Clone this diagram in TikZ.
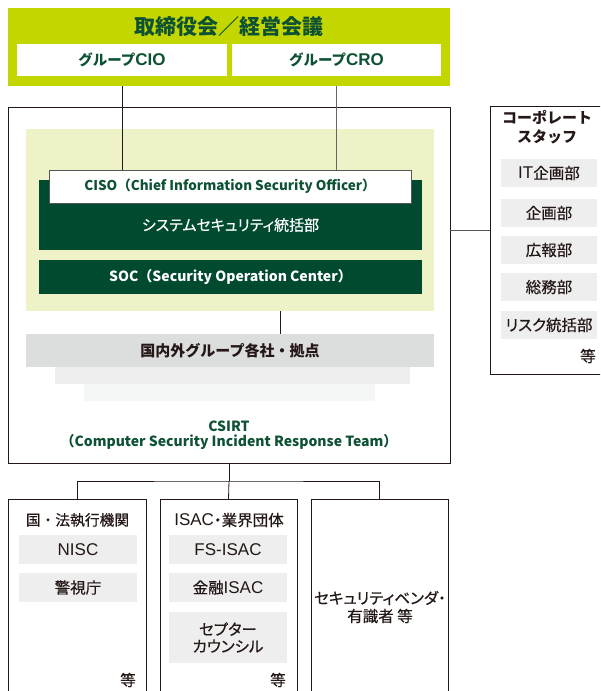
\documentclass[tikz,border=0pt]{standalone}
\usepackage{fontspec}
\setmainfont{Noto Sans CJK JP}
\newfontfamily\jpr[RawFeature=+palt, UprightFeatures={FakeBold=0.4}]{Noto Sans CJK JP}
\newfontfamily\jpn[UprightFeatures={FakeBold=0.4}]{Noto Sans CJK JP}
\newfontfamily\lat{Liberation Sans}
\definecolor{lime}{HTML}{C4D600}
\definecolor{dgreen}{HTML}{004A2F}
\definecolor{tgreen}{HTML}{0E5234}
\definecolor{pale}{HTML}{EFF2C6}
\definecolor{gray1}{HTML}{DCDDDD}
\definecolor{gray2}{HTML}{EEEEEE}
\definecolor{gray3}{HTML}{F5F6F6}
\definecolor{itemgray}{HTML}{EEEEEE}
\definecolor{ink}{HTML}{231815}
\definecolor{lgray}{HTML}{555555}
\newcommand\Lt[1]{{\lat\fontsize{17}{17}\selectfont #1}}
\tikzset{
  blk/.style={rectangle, inner sep=0pt, outer sep=0pt, draw=none},
  frame/.style={blk, draw=ink, line width=0.8pt},
  rtext/.style={font=\jpr\fontsize{15.5}{17}\selectfont, text=ink},
  item/.style={blk, fill=itemgray, minimum width=118pt, minimum height=29pt, rtext},
  citem/.style={blk, fill=itemgray, minimum width=96pt, minimum height=28pt, rtext},
  lbl/.style={inner sep=0pt, outer sep=0pt, align=center},
  conn/.style={draw=ink, line width=0.8pt},
}
\begin{document}
\begin{tikzpicture}[x=1pt,y=-1pt]
\clip (0,0) rectangle (600,691);
\fill[white] (0,0) rectangle (600,691);
% top board
\node[blk, fill=lime, minimum width=442pt, minimum height=78pt] (top) at (229,47) {};
\node[lbl, text=tgreen, font=\fontsize{21}{24}\selectfont\bfseries] (toptitle) at (229,27) {取締役会／経営会議};
\node[blk, fill=white, minimum width=210pt, minimum height=32pt, text=tgreen, font=\fontsize{14.5}{17}\selectfont\bfseries] (cio) at (122,60) {グループ\Lt{CIO}};
\node[blk, fill=white, minimum width=209pt, minimum height=32pt, text=tgreen, font=\fontsize{14.5}{17}\selectfont\bfseries] (cro) at (336.5,60) {グループ\Lt{CRO}};
% CSIRT frame
\node[frame, minimum width=442pt, minimum height=356pt] (csirt) at (229,285) {};
\node[blk, fill=pale, minimum width=408pt, minimum height=182pt] (yellow) at (230,220) {};
\node[blk, fill=dgreen, minimum width=383pt, minimum height=70pt] (sysdept) at (230.5,215) {};
\node[blk, fill=white, draw=lgray, line width=0.6pt, minimum width=362pt, minimum height=33pt, text=tgreen, font=\fontsize{13.5}{16}\selectfont\bfseries] (ciso) at (230,186.5) {CISO（Chief Information Security Officer）};
\draw[conn] (cio.south |- top.south) -- (cio.south |- ciso.north);
\draw[conn, draw=lgray!90] (cro.south |- top.south) -- (cro.south |- ciso.north);
\node[lbl, text=white, font=\jpr\fontsize{15}{17}\selectfont] (syslbl) at (230.5,225) {システムセキュリティ統括部};
\node[blk, fill=dgreen, minimum width=383pt, minimum height=34pt, text=white, font=\fontsize{14}{17}\selectfont\bfseries] (soc) at (230.5,277) {SOC（Security Operation Center）};
% group companies
\node[blk, fill=gray3, minimum width=291pt, minimum height=17pt] (grp3) at (229.5,392.5) {};
\node[blk, fill=gray2, minimum width=355pt, minimum height=17pt] (grp2) at (232.5,375.5) {};
\node[blk, fill=gray1, minimum width=408pt, minimum height=33pt, text=ink, font=\fontsize{15}{18}\selectfont\bfseries] (grp) at (230,350.5) {国内外グループ各社・拠点};
\coordinate (j1) at (280,311);
\draw[conn] (j1) -- (j1 |- grp.north);
\node[lbl, text=tgreen, font=\fontsize{14}{16}\selectfont\bfseries] (csirtlbl) at (229,426) {CSIRT};
\node[lbl, text=tgreen, font=\fontsize{14}{16}\selectfont\bfseries] (csirtfull) at (229,442) {（Computer Security Incident Response Team）};
% corporate staff
\node[frame, minimum width=115pt, minimum height=268pt] (corp) at (547.5,240) {};
\coordinate (hj) at (450,230);
\draw[conn, draw=lgray] (hj) -- (hj -| corp.west);
\node[lbl, text=ink, font=\fontsize{15}{19}\selectfont\bfseries] (corptitle) at (547,127.5) {コーポレート\\スタッフ};
\node[citem] (it) at (549,173) {\Lt{IT}企画部};
\node[citem] (plan) at (549,213) {企画部};
\node[citem] (pr) at (549,250) {広報部};
\node[citem] (ga) at (549,287) {総務部};
\node[citem] (risk) at (549,325) {リスク統括部};
\node[lbl, rtext] (corpetc) at (588,356) {等};
% external bodies
\node[frame, minimum width=138pt, minimum height=210pt, anchor=north] (b1) at (77,499) {};
\node[frame, minimum width=137pt, minimum height=210pt, anchor=north] (b2) at (228.5,499) {};
\node[frame, minimum width=137pt, minimum height=210pt, anchor=north] (b3) at (379.5,499) {};
\coordinate (bus) at (229,481);
\draw[conn] (csirt.south) -- (bus);
\draw[conn] (b1.north) |- (bus) -| (b3.north);
\draw[conn] (bus) -- (b2.north);
\node[lbl, text=ink, font=\jpn\fontsize{14.75}{17}\selectfont] (b1t) at (77.5,520) {国・法執行機関};
\node[item] (nisc) at (78,549.5) {\Lt{NISC}};
\node[item] (npa) at (78,587.5) {警視庁};
\node[lbl, rtext] (b1etc) at (128,680) {等};
\node[lbl, rtext] (b2t) at (229,520) {\Lt{ISAC}・業界団体};
\node[item] (fsisac) at (228,549.5) {\Lt{FS-ISAC}};
\node[item] (kisac) at (228,587.5) {金融\Lt{ISAC}};
\node[item, minimum height=51pt, align=center] (cept) at (228,637.5) {セプター\\カウンシル};
\node[lbl, rtext] (b2etc) at (278,680) {等};
\node[lbl, rtext, font=\jpr\fontsize{15.5}{18}\selectfont] (b3t) at (380,607) {セキュリティベンダ・\\有識者 等};
\end{tikzpicture}
\end{document}
